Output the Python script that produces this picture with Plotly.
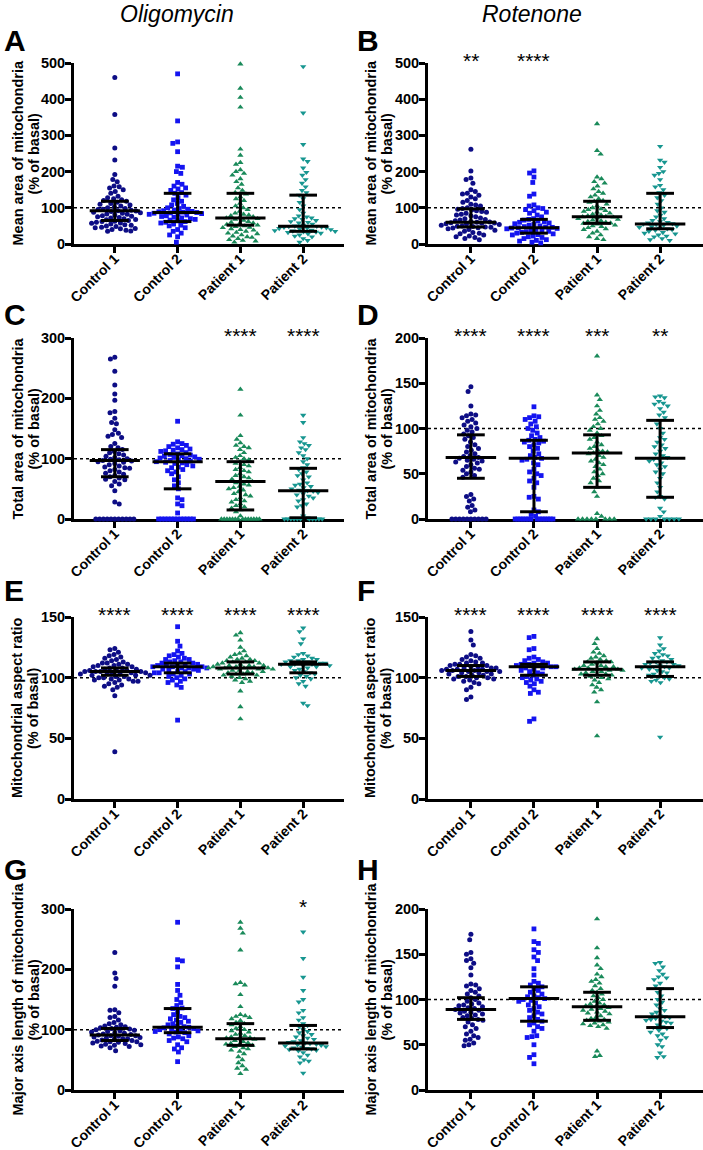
import numpy as np
import plotly.graph_objects as go

W, H = 703, 1150
FONT = "Liberation Sans, Arial, sans-serif"

categories = ["Control 1", "Control 2", "Patient 1", "Patient 2"]
colors = ["#0d0d85", "#1414f0", "#1a8a5a", "#179690"]
symbols = ["circle", "square", "triangle-up", "triangle-down"]
marker_sizes = [5, 4.8, 5.5, 5.5]

# ---------------- Panel A : mean area, oligomycin ----------------
a_ctrl1 = [460, 358, 265, 232, 192, 178, 172, 160, 158, 155, 150, 145, 140, 132, 128, 125, 122, 120, 118, 115,
           112, 110, 108, 105, 102, 100, 98, 96, 95, 93, 92, 91, 90, 88, 86, 85, 83, 82, 80, 78, 77, 75, 73, 72,
           70, 68, 67, 65, 63, 62, 60, 58, 57, 55, 53, 52, 50, 48, 46, 45, 43, 42, 40, 38, 36, 35]
a_ctrl2 = [470, 340, 282, 278, 255, 215, 212, 200, 195, 170, 165, 160, 155, 152, 148, 142, 140, 135, 128, 122,
           118, 112, 108, 104, 100, 98, 96, 94, 92, 90, 89, 88, 87, 86, 85, 84, 83, 82, 80, 78, 76, 74, 72, 70,
           68, 66, 64, 62, 60, 58, 55, 52, 50, 45, 40, 35, 30, 25, 20, 5]
a_pat1 = [497, 430, 405, 378, 262, 245, 225, 220, 205, 200, 195, 190, 180, 172, 165, 155, 148, 142, 138, 130,
          125, 120, 112, 105, 100, 95, 90, 85, 82, 80, 78, 75, 73, 72, 70, 68, 65, 62, 60, 58, 56, 54, 52, 50,
          48, 46, 45, 42, 40, 38, 35, 32, 30, 28, 25, 22, 20, 18, 15, 12, 10, 8, 5]
a_pat2 = [490, 362, 275, 235, 228, 210, 198, 190, 178, 168, 158, 148, 142, 135, 125, 115, 105, 95, 85, 78, 75,
          72, 70, 68, 65, 62, 60, 58, 55, 52, 50, 49, 48, 47, 46, 45, 44, 43, 42, 40, 38, 37, 36, 35, 34, 33, 32,
          30, 28, 25, 22, 20, 15, 10, 5]
a_median = [92, 87, 72, 49]
a_q1 = [65, 62, 52, 35]
a_q3 = [118, 140, 140, 135]
a_stars = ["", "", "", ""]

# ---------------- Panel B : mean area, rotenone ----------------
b_ctrl1 = [262, 202, 182, 178, 168, 150, 145, 140, 138, 135, 130, 125, 120, 115, 110, 108, 105, 100, 98, 96, 94,
           92, 90, 88, 85, 82, 80, 78, 75, 72, 70, 68, 66, 64, 62, 61, 60, 59, 58, 57, 56, 55, 54, 52, 50, 49, 48,
           47, 46, 45, 44, 42, 40, 38, 35, 32, 30, 28, 25, 22, 20, 18, 15, 12]
b_ctrl2 = [202, 196, 185, 170, 138, 132, 108, 105, 100, 98, 95, 92, 88, 85, 80, 75, 70, 68, 66, 64, 62, 60, 58,
           56, 54, 52, 50, 48, 47, 46, 45, 44, 43, 42, 40, 38, 36, 35, 34, 32, 30, 28, 26, 25, 22, 20, 18, 15, 12,
           10, 8, 5, 3]
b_pat1 = [332, 258, 248, 185, 180, 172, 168, 160, 152, 145, 140, 135, 130, 125, 120, 118, 115, 110, 105, 100, 97,
          95, 92, 90, 88, 85, 82, 80, 78, 76, 75, 74, 72, 70, 68, 66, 64, 62, 60, 58, 57, 55, 52, 50, 48, 45, 42,
          40, 35, 30, 25, 20, 15, 12]
b_pat2 = [270, 232, 226, 212, 200, 195, 190, 178, 162, 158, 150, 142, 135, 128, 120, 110, 100, 92, 88, 80, 75, 70,
          65, 62, 60, 58, 56, 55, 54, 52, 50, 48, 46, 44, 42, 40, 38, 35, 32, 30, 28, 25, 22, 20, 15, 12, 10]
b_median = [60, 45, 75, 55]
b_q1 = [47, 30, 57, 42]
b_q3 = [97, 68, 118, 140]
b_stars = ["**", "****", "", ""]

# ---------------- Panel C : total area, oligomycin ----------------
c_ctrl1 = [268, 265, 245, 222, 207, 197, 178, 176, 167, 160, 158, 148, 142, 140, 137, 135, 125, 120, 118, 115,
           112, 110, 108, 106, 104, 102, 100, 99, 98, 97, 96, 95, 94, 92, 90, 88, 86, 85, 84, 82, 80, 78, 76, 74,
           72, 70, 68, 66, 65, 62, 58, 55, 47, 28, 25, 0, 0, 0, 0, 0, 0, 0, 0, 0, 0, 0]
c_ctrl2 = [162, 128, 125, 124, 122, 120, 118, 116, 115, 114, 113, 112, 110, 108, 107, 106, 105, 104, 103, 102,
           101, 100, 99, 98, 97, 96, 95, 94, 93, 92, 90, 88, 86, 85, 82, 80, 78, 75, 70, 65, 60, 55, 50, 35, 32,
           25, 22, 10, 0, 0, 0, 0, 0, 0, 0, 0, 0, 0, 0, 0]
c_pat1 = [215, 172, 138, 132, 126, 122, 120, 118, 115, 110, 105, 102, 100, 98, 95, 92, 90, 88, 85, 82, 80, 78,
          75, 72, 70, 68, 66, 64, 62, 60, 58, 56, 54, 52, 50, 48, 45, 42, 40, 38, 35, 32, 30, 28, 25, 22, 20, 18,
          15, 12, 5, 0, 0, 0, 0, 0, 0, 0, 0, 0, 0, 0, 0, 0, 0]
c_pat2 = [172, 160, 135, 128, 125, 122, 118, 115, 110, 105, 100, 95, 90, 85, 82, 78, 75, 72, 70, 65, 60, 58, 56,
          54, 52, 50, 48, 47, 46, 44, 42, 40, 38, 35, 32, 30, 25, 22, 20, 5, 2, 0, 0, 0, 0, 0, 0, 0, 0, 0, 0, 0]
c_median = [97, 95, 62, 47]
c_q1 = [70, 50, 15, 2]
c_q3 = [115, 108, 95, 84]
c_stars = ["", "", "****", "****"]

# ---------------- Panel D : total area, rotenone ----------------
d_ctrl1 = [146, 141, 125, 116, 115, 114, 112, 110, 108, 106, 104, 102, 100, 98, 96, 94, 92, 90, 88, 85, 82, 80,
           78, 76, 74, 72, 70, 69, 68, 67, 66, 65, 64, 63, 62, 60, 58, 56, 55, 54, 52, 50, 48, 46, 27, 25, 22, 20,
           15, 13, 10, 8, 0, 0, 0, 0, 0, 0, 0, 0, 0, 0]
d_ctrl2 = [124, 114, 113, 112, 110, 108, 105, 102, 100, 98, 95, 92, 90, 88, 87, 86, 85, 84, 82, 80, 78, 75, 72,
           70, 68, 67, 66, 65, 62, 60, 55, 52, 50, 48, 45, 42, 40, 35, 25, 24, 22, 10, 8, 5, 3, 0, 0, 0, 0, 0, 0,
           0, 0, 0, 0, 0, 0, 0, 0]
d_pat1 = [180, 137, 132, 125, 120, 116, 112, 110, 108, 105, 102, 100, 98, 95, 92, 90, 88, 85, 82, 80, 78, 76, 75,
          74, 73, 72, 70, 68, 66, 64, 62, 60, 58, 55, 52, 50, 48, 45, 42, 40, 35, 30, 25, 6, 3, 0, 0, 0, 0, 0, 0,
          0, 0]
d_pat2 = [136, 135, 134, 130, 128, 127, 125, 122, 118, 115, 112, 109, 105, 100, 95, 90, 88, 85, 82, 80, 78, 75,
          72, 70, 68, 67, 66, 64, 62, 60, 58, 55, 52, 50, 45, 40, 35, 30, 25, 24, 22, 12, 8, 3, 0, 0, 0, 0, 0, 0, 0]
d_median = [68, 67, 73, 67]
d_q1 = [45, 8, 35, 24]
d_q3 = [93, 87, 93, 109]
d_stars = ["****", "****", "***", "**"]

# ---------------- Panel E : aspect ratio, oligomycin ----------------
e_ctrl1 = [124, 123, 121, 119, 118, 117, 116, 115, 114, 113, 112, 112, 111, 111, 110, 110, 109, 109, 108, 108,
           107, 107, 106, 106, 106, 105, 105, 105, 105, 104, 104, 104, 103, 103, 103, 102, 102, 102, 101, 101, 100,
           100, 99, 99, 98, 98, 97, 97, 96, 95, 94, 93, 92, 90, 85, 39]
e_ctrl2 = [142, 130, 126, 122, 120, 119, 118, 117, 116, 115, 115, 114, 113, 113, 112, 112, 111, 111, 110, 110,
           110, 109, 109, 109, 108, 108, 108, 107, 107, 106, 106, 105, 105, 104, 104, 103, 103, 102, 101, 100, 99,
           98, 97, 96, 94, 92, 65]
e_pat1 = [137, 135, 131, 125, 122, 120, 119, 118, 117, 116, 115, 115, 114, 114, 113, 113, 112, 112, 111, 111, 110,
          110, 110, 109, 109, 109, 108, 108, 108, 108, 107, 107, 107, 106, 106, 105, 105, 104, 104, 103, 103, 102,
          102, 101, 100, 99, 98, 97, 96, 89, 76, 66]
e_pat2 = [141, 138, 132, 128, 120, 119, 118, 117, 116, 115, 115, 114, 114, 113, 113, 112, 112, 111, 111, 111, 110,
          110, 109, 109, 108, 107, 106, 105, 104, 103, 102, 101, 100, 99, 97, 95, 93, 79, 77]
e_median = [105, 109, 108, 111]
e_q1 = [102, 104, 103, 104]
e_q3 = [108, 112, 113, 113]
e_stars = ["****", "****", "****", "****"]

# ---------------- Panel F : aspect ratio, rotenone ----------------
f_ctrl1 = [138, 131, 127, 119, 118, 117, 116, 115, 114, 113, 112, 112, 111, 111, 110, 110, 109, 109, 108, 108,
           108, 107, 107, 107, 106, 106, 106, 105, 105, 105, 104, 104, 103, 103, 102, 102, 101, 101, 100, 100, 99,
           99, 98, 97, 96, 95, 92, 90, 84, 82]
f_ctrl2 = [134, 133, 124, 123, 117, 116, 115, 114, 113, 112, 112, 111, 111, 110, 110, 109, 109, 108, 108, 107,
           106, 105, 104, 103, 102, 101, 100, 99, 98, 97, 96, 95, 93, 90, 88, 87, 66, 64]
f_pat1 = [132, 128, 124, 121, 120, 118, 117, 116, 115, 114, 113, 113, 112, 111, 110, 110, 109, 109, 108, 108, 107,
          107, 107, 106, 106, 105, 105, 104, 103, 103, 102, 102, 101, 100, 99, 98, 96, 94, 92, 90, 88, 80, 52]
f_pat2 = [133, 127, 124, 122, 120, 119, 118, 117, 116, 115, 114, 113, 113, 112, 111, 111, 110, 110, 109, 109, 108,
          108, 107, 106, 105, 104, 103, 102, 101, 100, 99, 98, 97, 96, 51]
f_median = [106, 109, 107, 109]
f_q1 = [101, 102, 102, 101]
f_q3 = [110, 111, 113, 113]
f_stars = ["****", "****", "****", "****"]

# ---------------- Panel G : major axis length, oligomycin ----------------
g_ctrl1 = [228, 194, 185, 172, 133, 132, 128, 122, 120, 116, 112, 110, 108, 106, 105, 104, 103, 102, 101, 100,
           99, 98, 97, 96, 95, 94, 93, 92, 91, 90, 90, 89, 88, 87, 86, 85, 85, 84, 83, 82, 81, 80, 80, 79, 78, 77,
           76, 75, 74, 73, 72, 70, 65]
g_ctrl2 = [278, 216, 214, 204, 175, 165, 157, 150, 145, 140, 136, 135, 130, 125, 122, 120, 118, 116, 114, 112,
           110, 108, 106, 105, 104, 103, 102, 101, 100, 99, 98, 97, 96, 95, 93, 90, 88, 86, 85, 82, 80, 75, 70, 68,
           63, 47]
g_pat1 = [278, 268, 260, 232, 178, 176, 174, 158, 138, 125, 123, 122, 120, 118, 115, 112, 110, 108, 105, 102, 100,
          98, 96, 94, 92, 90, 88, 87, 86, 85, 84, 82, 80, 78, 77, 76, 75, 74, 72, 70, 68, 66, 64, 60, 55, 50, 45,
          40, 36, 34, 27]
g_pat2 = [262, 218, 187, 165, 150, 146, 132, 128, 120, 116, 110, 107, 105, 100, 97, 95, 92, 90, 88, 86, 84, 82,
          80, 79, 78, 77, 76, 75, 74, 73, 72, 71, 70, 69, 68, 67, 66, 65, 62, 58, 55, 50, 48, 45, 28]
g_median = [91, 104, 85, 78]
g_q1 = [82, 95, 74, 68]
g_q3 = [102, 135, 110, 107]
g_stars = ["", "", "", "*"]

# ---------------- Panel H : major axis length, rotenone ----------------
h_ctrl1 = [172, 166, 152, 150, 145, 143, 140, 135, 127, 117, 116, 115, 112, 110, 108, 106, 104, 102, 100, 98, 96,
           95, 94, 93, 92, 91, 90, 89, 88, 87, 86, 85, 84, 83, 82, 80, 79, 78, 77, 75, 72, 70, 68, 65, 62, 60, 58,
           56, 55, 52, 50, 49]
h_ctrl2 = [178, 164, 162, 155, 152, 147, 143, 134, 127, 120, 118, 116, 114, 112, 110, 108, 106, 104, 103, 102,
           101, 100, 99, 98, 96, 94, 92, 90, 88, 86, 84, 82, 80, 78, 76, 74, 72, 70, 68, 65, 60, 59, 58, 50, 39,
           36, 29]
h_pat1 = [189, 157, 146, 138, 134, 128, 125, 122, 120, 118, 115, 112, 110, 108, 106, 104, 102, 100, 98, 96, 95,
          94, 93, 92, 91, 90, 89, 88, 87, 86, 85, 84, 82, 80, 79, 78, 77, 76, 75, 74, 73, 72, 71, 70, 68, 43, 38, 37]
h_pat2 = [141, 140, 136, 132, 128, 125, 124, 122, 118, 115, 112, 108, 104, 100, 97, 94, 90, 88, 86, 84, 82, 81,
          80, 79, 78, 77, 76, 75, 74, 72, 70, 69, 68, 66, 64, 62, 60, 58, 55, 50, 48, 41, 37, 36]
h_median = [89, 101, 92, 81]
h_q1 = [78, 76, 77, 69]
h_q3 = [102, 114, 108, 112]
h_stars = ["", "", "", ""]

# ---------------- text ----------------
column_titles = ["Oligomycin", "Rotenone"]
panel_letters = ["A", "B", "C", "D", "E", "F", "G", "H"]
y_titles = ["Mean area of mitochondria", "Mean area of mitochondria",
            "Total area of mitochondria", "Total area of mitochondria",
            "Mitochondrial aspect ratio", "Mitochondrial aspect ratio",
            "Major axis length of mitochondria", "Major axis length of mitochondria"]
y_subtitle = "(% of basal)"
y_tops = [500, 500, 300, 200, 150, 150, 300, 200]
y_dticks = [100, 100, 100, 50, 50, 50, 100, 50]
ref_line = 100

panels = [
    ([a_ctrl1, a_ctrl2, a_pat1, a_pat2], a_median, a_q1, a_q3, a_stars),
    ([b_ctrl1, b_ctrl2, b_pat1, b_pat2], b_median, b_q1, b_q3, b_stars),
    ([c_ctrl1, c_ctrl2, c_pat1, c_pat2], c_median, c_q1, c_q3, c_stars),
    ([d_ctrl1, d_ctrl2, d_pat1, d_pat2], d_median, d_q1, d_q3, d_stars),
    ([e_ctrl1, e_ctrl2, e_pat1, e_pat2], e_median, e_q1, e_q3, e_stars),
    ([f_ctrl1, f_ctrl2, f_pat1, f_pat2], f_median, f_q1, f_q3, f_stars),
    ([g_ctrl1, g_ctrl2, g_pat1, g_pat2], g_median, g_q1, g_q3, g_stars),
    ([h_ctrl1, h_ctrl2, h_pat1, h_pat2], h_median, h_q1, h_q3, h_stars),
]

# ---------------- layout geometry (pixels) ----------------
col_x = [(74, 344), (428, 703)]
row_y = [(63, 244), (338, 519), (617, 799), (909, 1090)]
x_ranges = [(-0.65, 3.65), (-0.68, 3.68)]
ytitle_x1 = [17, 370]
ytitle_x2 = [33, 386]
letter_x = [2, 355]
letter_y = [40, 315, 590, 869]


def swarm_offsets(vals, px_per_x, px_per_y, dx=4.6, dy=5.6, step=0.4, max_row=19.0):
    vals = np.asarray(vals, dtype=float)
    order = np.argsort(-vals, kind="stable")
    placed = []
    out = np.zeros(len(vals))
    for n, i in enumerate(order):
        yp = vals[i] * px_per_y
        near = [(px, py) for px, py in placed if abs(py - yp) < dy]
        k = 0
        best = None
        while best is None:
            cands = [0.0] if k == 0 else ([k * step, -k * step] if n % 2 == 0 else [-k * step, k * step])
            for s in cands:
                if all(((s - px) / dx) ** 2 + ((yp - py) / dy) ** 2 >= 1 for px, py in near):
                    best = s
                    break
            k += 1
        placed.append((best, yp))
        out[i] = best
    # rows of identical values (e.g. zeros) are squeezed like the original software does
    for v in np.unique(vals):
        idx = np.where(vals == v)[0]
        if len(idx) > 4:
            m = np.max(np.abs(out[idx]))
            if m > max_row:
                out[idx] = out[idx] * max_row / m
    return out / px_per_x


fig = go.Figure()
layout = dict(width=W, height=H, margin=dict(l=0, r=0, t=0, b=0, autoexpand=False),
              paper_bgcolor="white", plot_bgcolor="white", showlegend=False, template="none")
annotations = []
shapes = []

for p, (groups, med, q1, q3, stars) in enumerate(panels):
    r, c = divmod(p, 2)
    x0, x1 = col_x[c]
    yt, yb = row_y[r]
    xr = x_ranges[c]
    px_per_x = (x1 - x0) / (xr[1] - xr[0])
    px_per_y = (yb - yt) / y_tops[p]
    sfx = "" if p == 0 else str(p + 1)
    xa, ya = "x" + sfx, "y" + sfx

    for g, vals in enumerate(groups):
        offs = swarm_offsets(vals, px_per_x, px_per_y)
        fig.add_trace(go.Scatter(
            x=g + offs, y=vals, mode="markers", xaxis=xa, yaxis=ya, cliponaxis=False,
            marker=dict(symbol=symbols[g], size=marker_sizes[g], color=colors[g], line=dict(width=0)),
            hoverinfo="y"))

    # median + interquartile range bars
    ex, ey = [], []
    for g in range(4):
        ex += [g - 0.4, g + 0.4, None, g - 0.22, g + 0.22, None, g - 0.22, g + 0.22, None, g, g, None]
        ey += [med[g], med[g], None, q1[g], q1[g], None, q3[g], q3[g], None, q1[g], q3[g], None]
    fig.add_trace(go.Scatter(x=ex, y=ey, mode="lines", xaxis=xa, yaxis=ya, cliponaxis=False,
                             line=dict(color="black", width=3), hoverinfo="skip"))

    shapes.append(dict(type="line", xref=xa, yref=ya, x0=xr[0], x1=xr[1], y0=ref_line, y1=ref_line,
                       line=dict(color="black", width=1.5, dash="dot"), layer="below"))

    layout["xaxis" + sfx] = dict(
        domain=[x0 / W, x1 / W], anchor=ya, range=list(xr), tickmode="array", automargin=False,
        tickvals=[0, 1, 2, 3], ticktext=categories, tickangle=-45, ticklabelstandoff=-8,
        tickfont=dict(family=FONT, size=14, color="black", weight="bold"), layer="below traces",
        showline=True, linewidth=3, linecolor="black", ticks="outside", ticklen=6, tickwidth=3,
        tickcolor="black", showgrid=False, zeroline=False, fixedrange=True)
    layout["yaxis" + sfx] = dict(
        domain=[1 - yb / H, 1 - yt / H], anchor=xa, range=[0, y_tops[p]], automargin=False,
        tickmode="linear", tick0=0, dtick=y_dticks[p], layer="below traces", ticklabelstandoff=-3,
        tickfont=dict(family=FONT, size=14.5, color="black", weight="bold"),
        showline=True, linewidth=3, linecolor="black", ticks="outside", ticklen=6, tickwidth=3,
        tickcolor="black", showgrid=False, zeroline=False, fixedrange=True)

    for tx, txt in ((ytitle_x1[c], y_titles[p]), (ytitle_x2[c], y_subtitle)):
        annotations.append(dict(
            x=tx / W, y=1 - (yt + yb) / 2 / H, xref="paper", yref="paper",
            text="<b>" + txt + "</b>", textangle=-90, showarrow=False,
            xanchor="center", yanchor="middle", font=dict(family=FONT, size=14.5, color="black")))
    annotations.append(dict(
        x=letter_x[c] / W, y=1 - letter_y[r] / H, xref="paper", yref="paper",
        text="<b>" + panel_letters[p] + "</b>", showarrow=False, xanchor="left", yanchor="middle",
        font=dict(family=FONT, size=30, color="black")))
    for g in range(4):
        if stars[g]:
            annotations.append(dict(
                x=g, y=y_tops[p], xref=xa, yref=ya, text=stars[g], showarrow=False,
                xanchor="center", yanchor="middle", yshift=3,
                font=dict(family=FONT, size=21, color="black")))

for c in range(2):
    annotations.append(dict(
        x=(177 if c == 0 else 532) / W, y=1 - 14 / H, xref="paper", yref="paper",
        text="<i>" + column_titles[c] + "</i>", showarrow=False, xanchor="center", yanchor="middle",
        font=dict(family=FONT, size=23, color="black")))

layout["annotations"] = annotations
layout["shapes"] = shapes
fig.update_layout(**layout)
fig.write_html("out.html", config={"displayModeBar": False},
               post_script="document.body.style.margin='0';")
